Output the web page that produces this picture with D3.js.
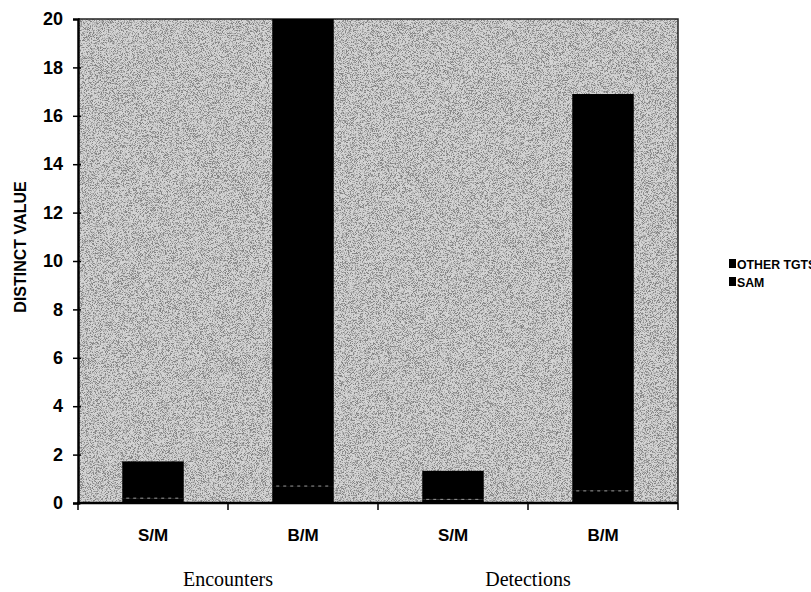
<!DOCTYPE html>
<html>
<head>
<meta charset="utf-8">
<script src="https://cdn.jsdelivr.net/npm/d3@7"></script>
<style>
  html, body { margin: 0; padding: 0; background: #fff; }
  svg { display: block; }
</style>
</head>
<body>
<svg id="chart" width="811" height="592"></svg>
<script>
// Stacked bars: SAM at the bottom, OTHER TGTS on top, both drawn in black.
const groups = ["Encounters", "Detections"];
const categories = ["S/M", "B/M", "S/M", "B/M"];
const samValues = [0.2, 0.7, 0.15, 0.5];
const otherValues = [1.52, 19.3, 1.18, 16.4];
const seriesNames = ["OTHER TGTS", "SAM"];
const yTicks = [0, 2, 4, 6, 8, 10, 12, 14, 16, 18, 20];

const svg = d3.select("#chart");
const plot = { left: 78, right: 678, top: 19, bottom: 503 };

const x = d3.scaleBand()
  .domain(d3.range(categories.length))
  .range([plot.left, plot.right])
  .paddingInner(0.59)
  .paddingOuter(0.295);
const step = x.step();

const y = d3.scaleLinear().domain([0, 20]).range([plot.bottom, plot.top]);

// speckled gray plot background
const defs = svg.append("defs");
const f = defs.append("filter").attr("id", "grain")
  .attr("x", 0).attr("y", 0).attr("width", "100%").attr("height", "100%");
f.append("feTurbulence").attr("type", "fractalNoise")
  .attr("baseFrequency", 1.4).attr("numOctaves", 2).attr("seed", 7).attr("result", "n");
f.append("feColorMatrix").attr("type", "matrix")
  .attr("values", "0 0 0 0 0  0 0 0 0 0  0 0 0 0 0  5 0 0 0 -2.3");

svg.append("rect")
  .attr("x", plot.left).attr("y", plot.top)
  .attr("width", plot.right - plot.left).attr("height", plot.bottom - plot.top)
  .attr("fill", "#d4d4d4");
svg.append("rect")
  .attr("x", plot.left).attr("y", plot.top)
  .attr("width", plot.right - plot.left).attr("height", plot.bottom - plot.top)
  .attr("fill", "#000").attr("opacity", 0.38)
  .attr("filter", "url(#grain)");

// plot border (top/right)
svg.append("path")
  .attr("d", `M${plot.left},${plot.top}H${plot.right}V${plot.bottom}`)
  .attr("fill", "none").attr("stroke", "#222").attr("stroke-width", 1.5);

// bars
const stacked = categories.map((c, i) => ({ i, sam: samValues[i], other: otherValues[i] }));
const bars = svg.append("g");
stacked.forEach(d => {
  const total = d.sam + d.other;
  bars.append("rect")
    .attr("x", x(d.i)).attr("width", x.bandwidth())
    .attr("y", y(d.sam)).attr("height", y(0) - y(d.sam))
    .attr("fill", "#000");
  bars.append("rect")
    .attr("x", x(d.i)).attr("width", x.bandwidth())
    .attr("y", y(total)).attr("height", y(d.sam) - y(total))
    .attr("fill", "#000");
  // faint dotted seam between the two segments
  bars.append("line")
    .attr("x1", x(d.i) + 4).attr("x2", x(d.i) + x.bandwidth() - 4)
    .attr("y1", y(d.sam)).attr("y2", y(d.sam))
    .attr("stroke", "#9a9a9a").attr("stroke-width", 1)
    .attr("stroke-dasharray", "3,4");
});

// y axis
const yAxis = d3.axisLeft(y).tickValues(yTicks).tickSize(5).tickPadding(10);
const gy = svg.append("g").attr("transform", `translate(${plot.left},0)`).call(yAxis);
gy.select(".domain").attr("stroke", "#000").attr("stroke-width", 2.5);
gy.selectAll(".tick line").attr("stroke", "#000").attr("stroke-width", 1.5)
  .attr("x2", 3).attr("x1", -5);
gy.selectAll(".tick text")
  .attr("font-family", "Liberation Sans, Arial, sans-serif")
  .attr("font-weight", "bold").attr("font-size", 18).attr("fill", "#000");
gy.select(".tick:last-of-type line").remove();

// x axis line and ticks at category boundaries
svg.append("line")
  .attr("x1", plot.left - 1).attr("x2", plot.right)
  .attr("y1", plot.bottom).attr("y2", plot.bottom)
  .attr("stroke", "#000").attr("stroke-width", 2.5);
const bounds = d3.range(categories.length + 1).map(k => plot.left + k * step);
svg.append("g").selectAll("line").data(bounds).join("line")
  .attr("x1", d => d).attr("x2", d => d)
  .attr("y1", plot.bottom).attr("y2", plot.bottom + 7)
  .attr("stroke", "#000").attr("stroke-width", 1.5);

// category labels
svg.append("g").selectAll("text").data(categories).join("text")
  .attr("x", (d, i) => x(i) + x.bandwidth() / 2)
  .attr("y", 541)
  .attr("text-anchor", "middle")
  .attr("font-family", "Liberation Sans, Arial, sans-serif")
  .attr("font-weight", "bold").attr("font-size", 17)
  .text(d => d);

// group labels
svg.append("g").selectAll("text").data(groups).join("text")
  .attr("x", (d, i) => plot.left + (i * 2 + 1) * step)
  .attr("y", 586)
  .attr("text-anchor", "middle")
  .attr("font-family", "Liberation Serif, Times New Roman, serif")
  .attr("font-size", 20)
  .text(d => d);

// y axis title
svg.append("text")
  .attr("transform", `translate(26,247) rotate(-90)`)
  .attr("text-anchor", "middle")
  .attr("font-family", "Liberation Sans, Arial, sans-serif")
  .attr("font-weight", "bold").attr("font-size", 16)
  .text("DISTINCT VALUE");

// legend
const legend = svg.append("g").attr("transform", "translate(729,0)");
seriesNames.forEach((name, k) => {
  const yy = 264 + k * 18;
  legend.append("rect").attr("x", 0).attr("y", yy - 5).attr("width", 7).attr("height", 9).attr("fill", "#000");
  legend.append("text").attr("x", 8).attr("y", yy + 4.5)
    .attr("font-family", "Liberation Sans, Arial, sans-serif")
    .attr("font-weight", "bold").attr("font-size", 12.3)
    .text(name);
});
</script>
</body>
</html>
